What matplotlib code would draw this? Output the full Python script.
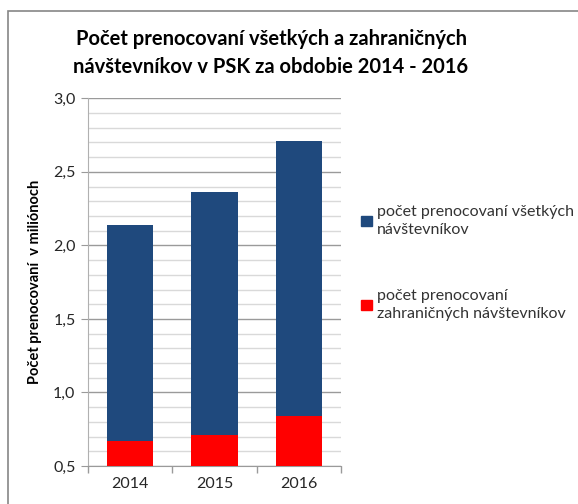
import matplotlib
matplotlib.use("Agg")
import matplotlib.pyplot as plt
from matplotlib.patches import Rectangle, Patch
from matplotlib.ticker import MultipleLocator, FixedLocator, FuncFormatter

years = ["2014", "2015", "2016"]
all_visitors = [2.14, 2.36, 2.71]
foreign_visitors = [0.67, 0.71, 0.84]
label_all = "počet prenocovaní všetkých\nnávštevníkov"
label_foreign = "počet prenocovaní\nzahraničných návštevníkov"
title = "Počet prenocovaní všetkých a zahraničných\nnávštevníkov v PSK za obdobie 2014 - 2016"
ylabel = "Počet prenocovaní  v miliónoch"

plt.rcParams['font.family'] = ['Lato', 'DejaVu Sans']

fig = plt.figure(figsize=(5.78, 5.04), dpi=100)
fig.patch.set_facecolor("white")

# outer chart border
fig.add_artist(Rectangle((8/578, -0.05), 1.2, 1 - 11/504 + 0.05, transform=fig.transFigure,
                         fill=False, edgecolor="#868686", linewidth=1.2))

ax = fig.add_axes([88/578, (504-466)/504, (341-88)/578, (466-98.3)/504])
x = range(len(years))
w = 0.55
ax.bar(x, all_visitors, width=w, color="#1F497D", zorder=3, label=label_all)
ax.bar(x, foreign_visitors, width=w, color="#FF0000", zorder=4, label=label_foreign)

ax.set_ylim(0.5, 3.0)
ax.set_xlim(-0.5, 2.5)
ax.yaxis.set_major_locator(MultipleLocator(0.5))
ax.yaxis.set_minor_locator(MultipleLocator(0.1))
ax.yaxis.set_major_formatter(FuncFormatter(lambda v, p: f"{v:.1f}".replace(".", ",")))
ax.grid(which="major", axis="y", color="#9a9a9a", linewidth=1.0, zorder=0)
ax.grid(which="minor", axis="y", color="#d9d9d9", linewidth=1.0, zorder=0)

ax.set_xticks(list(x))
ax.set_xticklabels(years)
ax.xaxis.set_minor_locator(FixedLocator([-0.5, 0.5, 1.5, 2.5]))
ax.tick_params(axis="x", which="major", length=0, labelsize=11.5, pad=8, colors="#262626")
ax.tick_params(axis="x", which="minor", length=5, color="#9a9a9a", width=1)
ax.tick_params(axis="y", which="major", length=5, color="#9a9a9a", labelsize=11.5, colors="#262626", pad=4)
ax.tick_params(axis="y", which="minor", length=0)

for s in ["top", "right"]:
    ax.spines[s].set_visible(False)
ax.spines["left"].set_color("#b0b0b0")
ax.spines["bottom"].set_color("#9a9a9a")

ax.set_ylabel(ylabel, fontsize=10.5, fontweight="bold", color="black", labelpad=8)

fig.text(271/578, 1 - 53/504, title, ha="center", va="center", fontsize=14.5,
         fontweight="bold", color="black", linespacing=1.45)

handles = [Patch(color="#1F497D"), Patch(color="#FF0000")]
leg = fig.legend(handles, [label_all, label_foreign], loc="upper left",
                 bbox_to_anchor=(347/578, 1 - 191/504), frameon=False,
                 fontsize=11.5, handlelength=0.65, handleheight=0.65, handletextpad=0.35,
                 labelspacing=3.3, labelcolor="#333333")
for t in leg.get_texts():
    t.set_linespacing(1.3)

fig.savefig("out.png", dpi=100)
